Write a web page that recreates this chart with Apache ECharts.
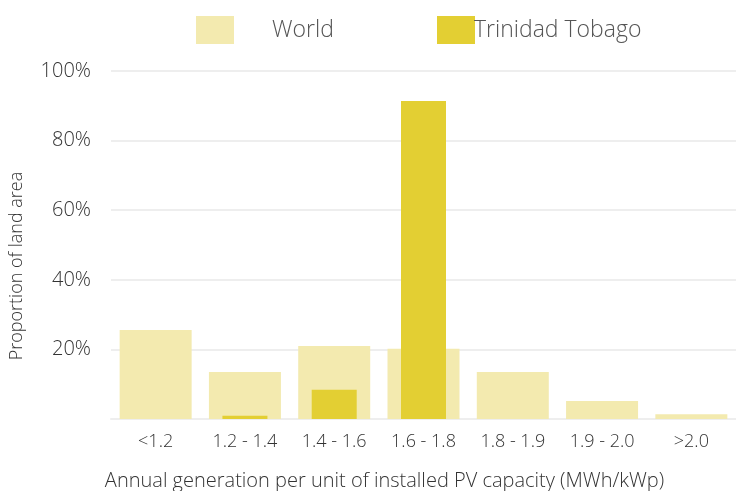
<!DOCTYPE html>
<html><head><meta charset="utf-8">
<script src="https://cdn.jsdelivr.net/npm/echarts@6/dist/echarts.min.js"></script>
<style>html,body{margin:0;padding:0;background:#fff}#c{width:736px;height:491px}</style>
</head><body><div id="c"></div>
<script>
const categories = ['<1.2', '1.2 - 1.4', '1.4 - 1.6', '1.6 - 1.8', '1.8 - 1.9', '1.9 - 2.0', '>2.0'];
const worldValues = [25.6, 13.5, 21.0, 20.2, 13.5, 5.2, 1.4];
const trinidadValues = [0, 0.9, 8.4, 91.4, 0, 0, 0];
const yTicks = [0, 20, 40, 60, 80, 100];

const FONT = '"Open Sans", sans-serif';
const chart = echarts.init(document.getElementById('c'));
chart.setOption({
  animation: false,
  textStyle: { fontFamily: FONT, fontWeight: 300 },
  legend: [
    { data: ['World'], left: 196, top: 16, itemWidth: 38, itemHeight: 28, icon: 'rect', padding: 0,
      textStyle: { fontSize: 23, color: '#555', fontFamily: FONT, fontWeight: 300, padding: [0, 0, 0, 33] } },
    { data: ['Trinidad Tobago'], left: 437, top: 16, itemWidth: 38, itemHeight: 28, icon: 'rect', padding: 0,
      textStyle: { fontSize: 23, color: '#555', fontFamily: FONT, fontWeight: 300, padding: [0, 0, 0, -6] } }
  ],
  grid: { left: 111, right: 0, top: 71, bottom: 72, containLabel: false, outerBoundsMode: 'none' },
  xAxis: [
    { type: 'category', data: categories,
      axisLine: { show: true, lineStyle: { color: '#eeeeee', width: 2 } },
      axisTick: { show: false },
      axisLabel: { fontSize: 18, color: '#333', margin: 14, fontFamily: FONT, fontWeight: 300 },
      name: 'Annual generation per unit of installed PV capacity (MWh/kWp)',
      nameLocation: 'middle', nameGap: 52,
      nameTextStyle: { fontSize: 20, color: '#333', fontFamily: FONT, fontWeight: 300, padding: [0, 78, 0, 0] } },
    { type: 'category', data: categories, show: false }
  ],
  yAxis: {
    type: 'value', min: 0, max: 100, interval: 20,
    axisLine: { show: false }, axisTick: { show: false },
    axisLabel: { fontSize: 20, color: '#333', margin: 20, fontFamily: FONT, fontWeight: 300,
      formatter: v => (v === 0 ? '' : v + '%') },
    splitLine: { lineStyle: { color: '#eeeeee', width: 2 } },
    name: 'Proportion of land area', nameLocation: 'middle', nameGap: 85,
    nameTextStyle: { fontSize: 18, color: '#333', fontFamily: FONT, fontWeight: 300, padding: [0, 42, 0, 0] }
  },
  series: [
    { name: 'World', type: 'bar', xAxisIndex: 0, data: worldValues, barWidth: 72,
      itemStyle: { color: '#f3eaaf' } },
    { name: 'Trinidad Tobago', type: 'bar', xAxisIndex: 1, data: trinidadValues, barWidth: 45,
      itemStyle: { color: '#e3cf33' } }
  ]
});
</script></body></html>
